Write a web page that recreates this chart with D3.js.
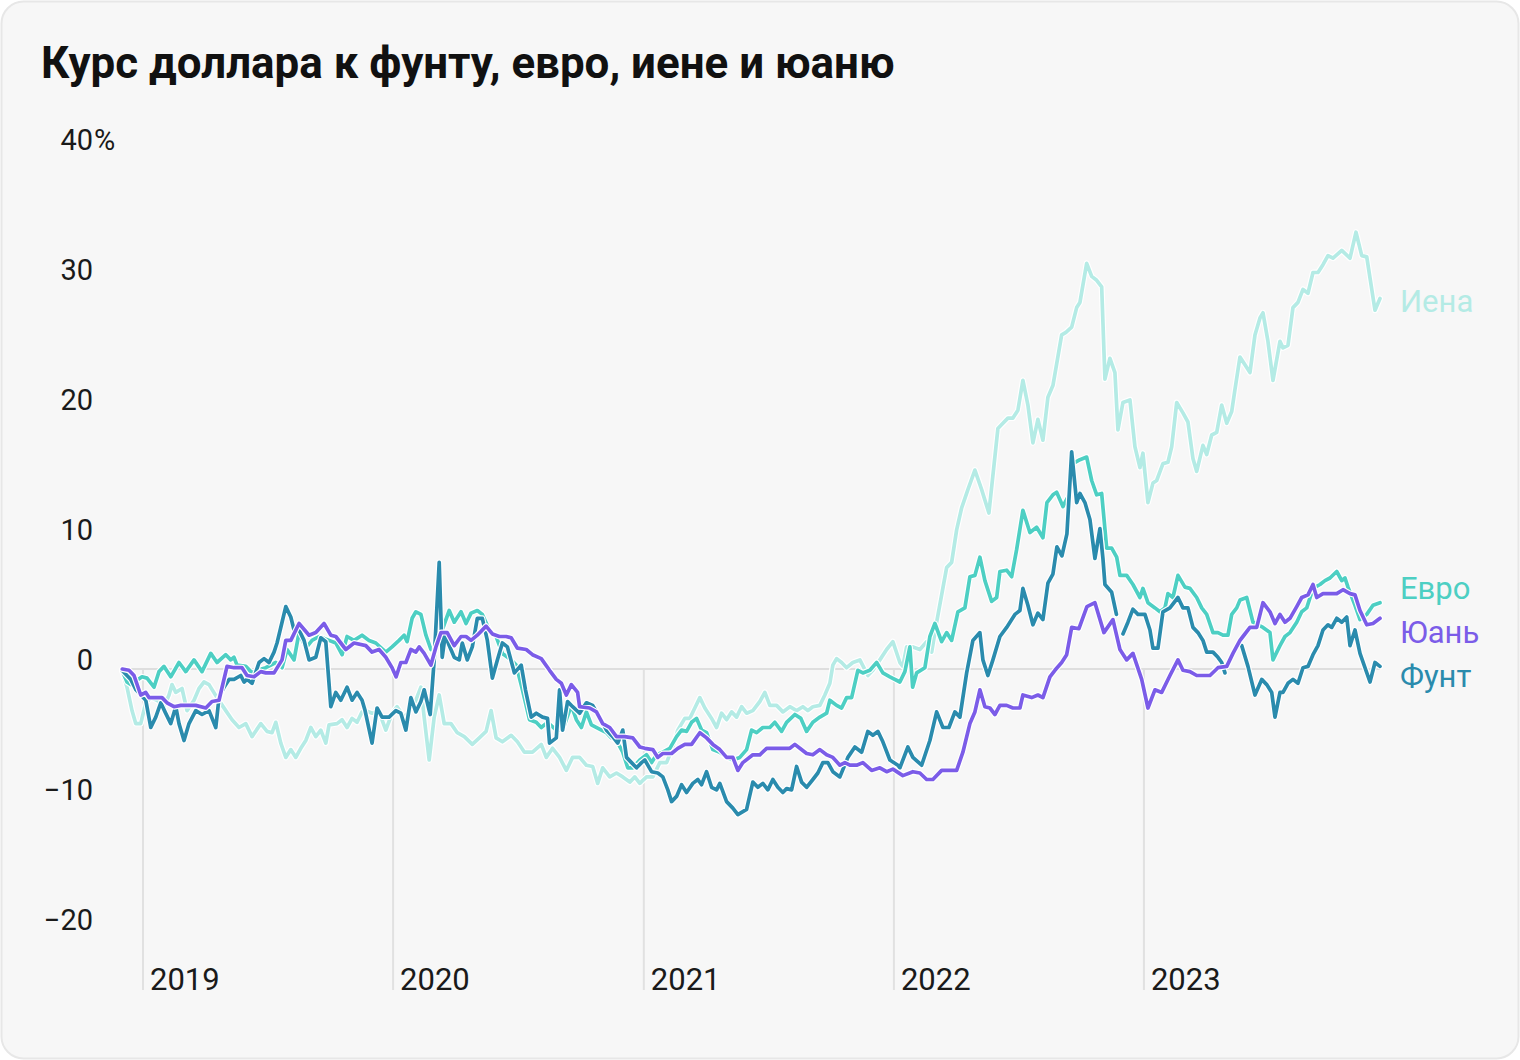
<!DOCTYPE html>
<html><head><meta charset="utf-8">
<script src="https://cdn.jsdelivr.net/npm/d3@7"></script>
<style>
html,body{margin:0;padding:0;background:#ffffff;}
svg{display:block;font-family:Roboto,"Noto Sans",sans-serif;}
</style></head><body>
<svg id="chart" width="1520" height="1060"></svg>
<script>
const titleText = "Курс доллара к фунту, евро, иене и юаню";
const yTicks = [-20, -10, 0, 10, 20, 30, 40];
const yearTicks = [2019, 2020, 2021, 2022, 2023];
const seriesNames = ["Иена", "Евро", "Фунт", "Юань"];
const seriesColors = ["#b4ebe5", "#4dcfc3", "#2a8bad", "#7b5ce8"];

// [decimal year, % change]
const yen = [[2018.916,-0.1],[2018.936,-1.4],[2018.956,-3.2],[2018.971,-4.2],[2018.991,-4.2],[2019.011,-2.6],[2019.031,-2.2],[2019.056,-2.4],[2019.084,-2.9],[2019.104,-2.0],[2019.116,-1.2],[2019.131,-1.8],[2019.156,-1.5],[2019.176,-3.2],[2019.204,-2.4],[2019.224,-1.5],[2019.244,-1.0],[2019.264,-1.2],[2019.296,-2.2],[2019.331,-3.2],[2019.356,-3.9],[2019.384,-4.5],[2019.411,-4.2],[2019.436,-5.2],[2019.471,-4.2],[2019.496,-4.8],[2019.516,-4.9],[2019.531,-4.1],[2019.551,-5.7],[2019.571,-6.8],[2019.591,-6.2],[2019.611,-6.8],[2019.631,-6.1],[2019.651,-5.5],[2019.671,-4.5],[2019.691,-5.2],[2019.711,-4.7],[2019.731,-5.7],[2019.744,-4.3],[2019.776,-4.2],[2019.796,-3.9],[2019.816,-4.5],[2019.836,-3.8],[2019.856,-4.1],[2019.876,-3.3],[2019.891,-3.2],[2019.916,-3.4],[2019.944,-3.3],[2019.971,-4.7],[2019.996,-3.4],[2020.016,-2.9],[2020.044,-3.7],[2020.064,-3.3],[2020.091,-2.4],[2020.111,-1.4],[2020.124,-3.7],[2020.144,-7.0],[2020.164,-3.7],[2020.184,-2.0],[2020.204,-4.2],[2020.231,-4.2],[2020.256,-4.9],[2020.284,-5.2],[2020.316,-5.8],[2020.344,-5.3],[2020.371,-4.8],[2020.391,-3.2],[2020.411,-5.3],[2020.436,-5.6],[2020.471,-5.1],[2020.496,-5.6],[2020.524,-6.4],[2020.556,-6.4],[2020.591,-5.8],[2020.611,-6.8],[2020.636,-6.1],[2020.664,-6.8],[2020.691,-7.8],[2020.716,-6.8],[2020.744,-6.8],[2020.771,-7.4],[2020.796,-7.5],[2020.816,-8.8],[2020.836,-7.6],[2020.864,-8.3],[2020.891,-8.0],[2020.916,-8.3],[2020.944,-8.7],[2020.964,-8.3],[2020.984,-8.8],[2021.011,-8.3],[2021.036,-8.3],[2021.064,-7.2],[2021.091,-7.2],[2021.116,-6.0],[2021.136,-4.7],[2021.164,-3.8],[2021.184,-3.8],[2021.204,-3.0],[2021.224,-2.2],[2021.244,-3.0],[2021.271,-3.8],[2021.291,-4.5],[2021.311,-3.4],[2021.331,-3.9],[2021.351,-3.3],[2021.371,-3.7],[2021.391,-2.9],[2021.411,-3.4],[2021.436,-3.2],[2021.464,-2.5],[2021.484,-1.8],[2021.504,-2.8],[2021.531,-2.8],[2021.556,-3.3],[2021.584,-2.9],[2021.611,-3.2],[2021.636,-2.9],[2021.656,-3.2],[2021.676,-2.9],[2021.704,-2.8],[2021.724,-2.0],[2021.744,-1.1],[2021.756,0.3],[2021.771,0.8],[2021.791,0.5],[2021.811,0.1],[2021.836,0.5],[2021.864,0.7],[2021.896,-0.5],[2021.916,-0.1],[2021.944,0.7],[2021.971,1.5],[2021.996,2.1],[2022.024,0.5],[2022.036,0.2],[2022.051,1.7],[2022.076,1.7],[2022.104,1.5],[2022.131,2.1],[2022.151,1.3],[2022.171,3.6],[2022.191,5.7],[2022.211,7.8],[2022.231,8.2],[2022.251,10.7],[2022.271,12.4],[2022.296,13.8],[2022.324,15.3],[2022.351,13.8],[2022.380,12.0],[2022.416,18.5],[2022.436,18.9],[2022.456,19.3],[2022.476,19.3],[2022.496,19.9],[2022.516,22.2],[2022.536,20.3],[2022.556,17.4],[2022.576,19.2],[2022.596,17.6],[2022.616,20.9],[2022.636,21.8],[2022.671,25.7],[2022.688,25.9],[2022.711,26.3],[2022.731,27.8],[2022.744,28.2],[2022.771,31.2],[2022.791,30.2],[2022.811,29.9],[2022.831,29.4],[2022.844,22.3],[2022.864,23.9],[2022.884,22.8],[2022.896,18.4],[2022.916,20.5],[2022.944,20.7],[2022.964,17.1],[2022.984,15.5],[2022.996,16.6],[2023.016,12.8],[2023.036,14.3],[2023.051,14.5],[2023.076,15.8],[2023.096,15.9],[2023.111,17.1],[2023.131,20.5],[2023.156,19.7],[2023.176,19.0],[2023.196,16.2],[2023.211,15.2],[2023.236,17.2],[2023.251,16.5],[2023.271,18.0],[2023.291,18.2],[2023.311,20.3],[2023.331,18.9],[2023.351,19.8],[2023.364,21.5],[2023.384,24.0],[2023.424,22.8],[2023.444,25.7],[2023.464,27.0],[2023.476,27.4],[2023.496,25.2],[2023.516,22.2],[2023.544,25.2],[2023.556,24.7],[2023.576,24.9],[2023.596,27.8],[2023.616,28.2],[2023.636,29.2],[2023.656,28.9],[2023.676,30.5],[2023.696,30.5],[2023.716,31.1],[2023.736,31.8],[2023.756,31.6],[2023.791,32.2],[2023.824,31.6],[2023.848,33.6],[2023.871,31.8],[2023.891,31.7],[2023.924,27.6],[2023.944,28.5]];

const euro = [[2018.916,-0.1],[2018.936,-1.0],[2018.951,-1.2],[2018.996,-0.6],[2019.016,-0.7],[2019.044,-1.4],[2019.064,-0.2],[2019.084,0.2],[2019.111,-0.6],[2019.144,0.5],[2019.171,-0.2],[2019.204,0.7],[2019.236,-0.2],[2019.271,1.2],[2019.296,0.5],[2019.331,1.1],[2019.351,0.7],[2019.364,0.9],[2019.376,0.3],[2019.411,0.2],[2019.436,-0.3],[2019.456,-0.1],[2019.491,0.1],[2019.531,0.5],[2019.556,0.1],[2019.576,1.5],[2019.604,0.7],[2019.624,2.8],[2019.651,1.6],[2019.676,2.2],[2019.704,2.5],[2019.744,2.2],[2019.771,2.0],[2019.796,1.1],[2019.816,2.5],[2019.844,2.2],[2019.876,2.6],[2019.904,2.2],[2019.931,2.0],[2019.971,1.3],[2019.996,1.7],[2020.024,2.2],[2020.044,2.6],[2020.056,2.1],[2020.076,3.9],[2020.091,4.4],[2020.111,4.2],[2020.131,2.6],[2020.151,1.5],[2020.171,1.8],[2020.196,3.0],[2020.224,4.5],[2020.244,3.6],[2020.271,4.4],[2020.291,3.5],[2020.311,4.3],[2020.336,4.5],[2020.356,4.2],[2020.384,3.0],[2020.411,2.5],[2020.436,1.2],[2020.471,0.7],[2020.491,0.3],[2020.516,-1.6],[2020.544,-3.9],[2020.571,-4.1],[2020.591,-4.5],[2020.616,-4.1],[2020.651,-4.7],[2020.676,-4.7],[2020.711,-2.8],[2020.731,-3.9],[2020.751,-4.5],[2020.771,-3.3],[2020.791,-4.3],[2020.831,-4.7],[2020.851,-4.9],[2020.871,-5.3],[2020.891,-5.5],[2020.916,-6.4],[2020.936,-7.6],[2020.956,-7.6],[2020.984,-7.0],[2021.011,-6.6],[2021.031,-7.2],[2021.051,-6.6],[2021.076,-6.4],[2021.104,-6.1],[2021.131,-5.2],[2021.151,-4.7],[2021.171,-4.8],[2021.191,-4.1],[2021.211,-3.8],[2021.231,-4.7],[2021.251,-4.9],[2021.276,-6.2],[2021.304,-6.4],[2021.331,-6.8],[2021.356,-7.0],[2021.384,-6.8],[2021.411,-6.2],[2021.431,-4.7],[2021.451,-4.9],[2021.476,-4.5],[2021.504,-4.5],[2021.524,-4.1],[2021.551,-4.8],[2021.571,-4.1],[2021.604,-3.5],[2021.628,-3.8],[2021.651,-4.8],[2021.676,-4.1],[2021.704,-3.7],[2021.731,-3.4],[2021.744,-2.4],[2021.771,-2.8],[2021.791,-3.0],[2021.811,-2.2],[2021.831,-2.2],[2021.856,-0.1],[2021.876,-0.3],[2021.904,-0.1],[2021.931,0.5],[2021.956,-0.3],[2021.984,-0.6],[2022.024,-1.0],[2022.044,-0.2],[2022.064,1.7],[2022.075,-1.4],[2022.091,-0.3],[2022.124,0.1],[2022.144,2.5],[2022.164,3.5],[2022.191,2.1],[2022.211,2.8],[2022.231,2.2],[2022.256,4.4],[2022.284,4.7],[2022.304,7.1],[2022.324,7.2],[2022.344,8.6],[2022.364,6.8],[2022.391,5.2],[2022.411,5.5],[2022.424,7.5],[2022.451,7.6],[2022.471,7.1],[2022.491,9.2],[2022.516,12.2],[2022.544,10.5],[2022.571,10.9],[2022.596,10.1],[2022.612,12.8],[2022.636,13.4],[2022.651,13.6],[2022.676,12.5],[2022.704,13.5],[2022.716,15.8],[2022.744,16.1],[2022.771,16.3],[2022.791,14.5],[2022.811,13.4],[2022.831,13.5],[2022.851,9.3],[2022.871,9.3],[2022.891,8.6],[2022.904,7.2],[2022.931,7.2],[2022.956,6.5],[2022.984,5.5],[2022.996,6.2],[2023.016,5.1],[2023.044,4.7],[2023.064,4.4],[2023.084,4.7],[2023.096,5.8],[2023.116,5.5],[2023.136,7.2],[2023.164,6.3],[2023.184,6.2],[2023.211,5.5],[2023.231,4.7],[2023.251,4.2],[2023.276,2.8],[2023.296,2.8],[2023.316,2.6],[2023.336,2.6],[2023.351,4.2],[2023.371,4.7],[2023.384,5.3],[2023.411,5.5],[2023.436,3.6],[2023.456,3.4],[2023.476,3.2],[2023.504,2.8],[2023.516,0.7],[2023.544,1.8],[2023.564,2.5],[2023.584,2.8],[2023.611,3.6],[2023.631,4.4],[2023.651,4.7],[2023.676,6.2],[2023.704,6.5],[2023.724,6.8],[2023.744,7.0],[2023.771,7.5],[2023.791,6.8],[2023.804,7.0],[2023.816,6.3],[2023.844,4.9],[2023.864,3.8],[2023.891,4.2],[2023.916,4.9],[2023.944,5.1]];

const pound = [[2018.916,-0.1],[2018.951,-0.8],[2018.972,-1.6],[2019.011,-2.4],[2019.031,-4.5],[2019.051,-3.7],[2019.071,-2.6],[2019.088,-3.3],[2019.111,-4.2],[2019.131,-2.9],[2019.144,-4.2],[2019.164,-5.5],[2019.184,-4.2],[2019.211,-3.2],[2019.236,-3.5],[2019.264,-3.2],[2019.291,-4.5],[2019.304,-2.2],[2019.324,-1.4],[2019.344,-0.8],[2019.364,-0.8],[2019.391,-0.5],[2019.404,-1.0],[2019.416,-0.8],[2019.436,-1.1],[2019.464,0.5],[2019.484,0.8],[2019.504,0.5],[2019.524,1.3],[2019.536,2.0],[2019.556,3.6],[2019.571,4.8],[2019.591,4.0],[2019.604,3.0],[2019.624,3.0],[2019.644,2.2],[2019.664,0.7],[2019.691,0.9],[2019.711,2.4],[2019.731,2.1],[2019.751,-2.9],[2019.771,-1.8],[2019.791,-2.4],[2019.816,-1.4],[2019.836,-2.4],[2019.856,-1.8],[2019.876,-2.4],[2019.888,-3.2],[2019.916,-5.7],[2019.936,-3.0],[2019.956,-3.7],[2019.984,-3.7],[2020.011,-3.2],[2020.031,-3.4],[2020.051,-4.7],[2020.071,-2.2],[2020.091,-3.3],[2020.111,-2.5],[2020.124,-1.6],[2020.148,-3.5],[2020.164,0.7],[2020.184,8.2],[2020.196,0.9],[2020.208,2.6],[2020.224,1.8],[2020.244,0.9],[2020.264,0.7],[2020.276,2.0],[2020.296,0.7],[2020.316,1.7],[2020.336,3.9],[2020.356,3.9],[2020.376,2.2],[2020.396,-0.7],[2020.416,0.7],[2020.436,2.0],[2020.456,1.7],[2020.484,-0.3],[2020.511,0.3],[2020.528,-1.6],[2020.551,-3.7],[2020.571,-3.4],[2020.596,-3.7],[2020.616,-3.8],[2020.624,-5.7],[2020.651,-5.3],[2020.664,-1.6],[2020.676,-4.7],[2020.696,-2.5],[2020.716,-2.9],[2020.744,-3.4],[2020.771,-2.6],[2020.796,-2.8],[2020.824,-3.7],[2020.851,-4.7],[2020.876,-5.2],[2020.896,-5.7],[2020.916,-4.7],[2020.931,-6.8],[2020.951,-7.2],[2020.971,-7.6],[2020.991,-7.2],[2021.004,-7.0],[2021.031,-7.9],[2021.056,-8.0],[2021.076,-8.3],[2021.096,-9.3],[2021.111,-10.2],[2021.131,-9.8],[2021.151,-8.9],[2021.171,-9.5],[2021.196,-8.8],[2021.216,-8.5],[2021.231,-8.9],[2021.251,-7.9],[2021.271,-9.1],[2021.291,-9.3],[2021.304,-8.8],[2021.331,-10.2],[2021.356,-10.7],[2021.376,-11.2],[2021.411,-10.8],[2021.436,-8.7],[2021.456,-9.1],[2021.476,-8.8],[2021.496,-9.3],[2021.516,-8.5],[2021.536,-9.1],[2021.556,-9.5],[2021.571,-9.2],[2021.591,-9.3],[2021.611,-7.5],[2021.631,-8.7],[2021.651,-9.1],[2021.676,-8.5],[2021.696,-8.0],[2021.716,-7.2],[2021.736,-7.2],[2021.756,-7.9],[2021.784,-8.3],[2021.816,-6.8],[2021.844,-6.0],[2021.871,-6.4],[2021.896,-4.8],[2021.916,-5.1],[2021.936,-4.8],[2021.956,-5.6],[2021.984,-7.0],[2022.016,-7.4],[2022.024,-7.6],[2022.056,-6.0],[2022.076,-6.8],[2022.111,-7.4],[2022.144,-5.5],[2022.171,-3.3],[2022.196,-4.5],[2022.220,-4.5],[2022.244,-3.3],[2022.264,-3.7],[2022.291,-0.3],[2022.316,2.2],[2022.344,2.8],[2022.356,0.7],[2022.376,-0.5],[2022.396,0.7],[2022.424,2.5],[2022.451,3.2],[2022.484,4.2],[2022.504,4.5],[2022.516,6.2],[2022.536,4.9],[2022.556,3.4],[2022.576,4.3],[2022.596,3.8],[2022.616,6.6],[2022.636,7.3],[2022.652,9.4],[2022.672,8.7],[2022.692,10.4],[2022.711,16.7],[2022.731,12.8],[2022.744,13.5],[2022.764,12.8],[2022.784,11.5],[2022.804,8.5],[2022.824,10.8],[2022.836,8.5],[2022.844,6.5],[2022.871,5.9],[2022.890,4.2],[2022.900,null],[2022.916,2.7],[2022.936,3.6],[2022.956,4.6],[2022.976,4.2],[2023.004,4.2],[2023.024,3.0],[2023.036,1.6],[2023.056,1.6],[2023.076,4.4],[2023.104,4.7],[2023.136,5.5],[2023.156,4.7],[2023.176,4.7],[2023.196,3.2],[2023.216,2.8],[2023.236,2.2],[2023.251,1.3],[2023.276,1.3],[2023.296,0.9],[2023.311,0.5],[2023.324,-0.3],[2023.360,null],[2023.391,1.8],[2023.416,0.2],[2023.444,-2.0],[2023.471,-0.8],[2023.491,-1.2],[2023.511,-1.8],[2023.524,-3.7],[2023.544,-1.8],[2023.556,-1.8],[2023.576,-1.1],[2023.596,-0.8],[2023.616,-1.1],[2023.636,0.1],[2023.656,0.2],[2023.676,1.1],[2023.696,1.8],[2023.716,3.0],[2023.736,3.4],[2023.751,3.2],[2023.771,3.9],[2023.791,3.6],[2023.811,4.0],[2023.824,1.8],[2023.844,3.0],[2023.864,1.2],[2023.904,-1.0],[2023.924,0.5],[2023.944,0.2]];

const yuan = [[2018.917,0.0],[2018.944,-0.1],[2018.964,-0.5],[2018.991,-2.0],[2019.011,-1.8],[2019.024,-2.2],[2019.076,-2.2],[2019.096,-2.6],[2019.124,-2.9],[2019.151,-2.8],[2019.211,-2.8],[2019.251,-3.0],[2019.276,-2.5],[2019.304,-2.4],[2019.336,0.2],[2019.364,0.1],[2019.396,0.1],[2019.416,-0.5],[2019.444,-0.6],[2019.471,-0.2],[2019.491,-0.3],[2019.524,-0.3],[2019.556,0.7],[2019.571,2.2],[2019.591,2.2],[2019.624,3.5],[2019.664,2.6],[2019.691,2.8],[2019.724,3.5],[2019.751,2.6],[2019.771,2.5],[2019.811,1.5],[2019.844,2.0],[2019.891,1.8],[2019.916,1.3],[2019.944,1.5],[2019.971,0.9],[2019.996,0.1],[2020.012,-0.6],[2020.031,0.5],[2020.051,0.5],[2020.071,1.5],[2020.091,1.3],[2020.104,1.7],[2020.124,1.2],[2020.151,0.3],[2020.171,1.7],[2020.191,2.8],[2020.216,2.8],[2020.244,1.8],[2020.271,2.5],[2020.291,2.5],[2020.311,2.2],[2020.336,2.6],[2020.371,3.3],[2020.396,2.7],[2020.424,2.5],[2020.451,2.5],[2020.471,2.4],[2020.496,1.6],[2020.531,1.5],[2020.556,1.1],[2020.591,0.8],[2020.624,-0.1],[2020.651,-0.8],[2020.671,-1.1],[2020.691,-2.0],[2020.711,-1.2],[2020.736,-1.8],[2020.744,-2.9],[2020.784,-3.0],[2020.811,-3.3],[2020.836,-4.2],[2020.864,-4.5],[2020.891,-5.2],[2020.924,-5.2],[2020.956,-5.3],[2020.984,-6.0],[2021.004,-6.1],[2021.036,-6.2],[2021.056,-6.8],[2021.076,-6.5],[2021.111,-6.5],[2021.136,-6.1],[2021.164,-5.8],[2021.191,-5.8],[2021.224,-4.9],[2021.251,-5.3],[2021.276,-5.8],[2021.304,-6.2],[2021.331,-6.8],[2021.356,-6.8],[2021.376,-7.8],[2021.396,-7.2],[2021.436,-6.6],[2021.464,-6.6],[2021.491,-6.1],[2021.544,-6.1],[2021.584,-6.1],[2021.604,-5.8],[2021.624,-6.1],[2021.651,-6.5],[2021.676,-6.6],[2021.704,-6.2],[2021.731,-6.6],[2021.756,-6.8],[2021.784,-7.4],[2021.804,-7.2],[2021.824,-7.4],[2021.851,-7.4],[2021.876,-7.2],[2021.911,-7.8],[2021.944,-7.6],[2021.971,-7.9],[2021.996,-7.7],[2022.036,-8.2],[2022.076,-7.9],[2022.104,-8.0],[2022.131,-8.5],[2022.156,-8.5],[2022.191,-7.8],[2022.251,-7.8],[2022.276,-6.4],[2022.304,-4.2],[2022.324,-3.3],[2022.344,-1.6],[2022.364,-2.9],[2022.384,-3.0],[2022.404,-3.5],[2022.424,-2.8],[2022.451,-2.8],[2022.476,-3.0],[2022.504,-3.0],[2022.516,-2.0],[2022.551,-2.2],[2022.576,-2.0],[2022.596,-2.2],[2022.624,-0.6],[2022.644,-0.1],[2022.671,0.5],[2022.691,1.1],[2022.711,3.2],[2022.740,3.1],[2022.772,4.8],[2022.804,5.1],[2022.840,2.8],[2022.876,3.8],[2022.904,1.5],[2022.931,0.7],[2022.956,1.2],[2022.991,-0.8],[2023.016,-3.0],[2023.044,-1.6],[2023.071,-1.8],[2023.104,-0.5],[2023.136,0.7],[2023.156,-0.1],[2023.184,-0.2],[2023.211,-0.5],[2023.264,-0.5],[2023.296,0.1],[2023.331,0.2],[2023.356,1.2],[2023.384,2.2],[2023.396,2.5],[2023.424,3.2],[2023.451,3.2],[2023.476,5.1],[2023.504,4.4],[2023.524,3.5],[2023.544,4.2],[2023.564,3.6],[2023.584,3.9],[2023.611,4.8],[2023.631,5.5],[2023.656,5.7],[2023.676,6.5],[2023.691,5.5],[2023.716,5.8],[2023.744,5.8],[2023.771,5.8],[2023.796,6.1],[2023.824,5.8],[2023.844,5.7],[2023.864,4.5],[2023.891,3.4],[2023.916,3.5],[2023.944,3.9]];

const seriesData = [yen, euro, pound, yuan];

// decimal year -> Date
function toDate(t) {
  const yr = Math.floor(t);
  const a = Date.UTC(yr, 0, 1), b = Date.UTC(yr + 1, 0, 1);
  return new Date(a + (t - yr) * (b - a));
}

const W = 1520, H = 1060;
const plotLeft = 122, plotRight = 1380, plotBottom = 990;

const svg = d3.select("#chart");

// card
svg.append("rect")
  .attr("x", 1.5).attr("y", 1.5).attr("width", W - 3).attr("height", H - 3)
  .attr("rx", 22).attr("ry", 22)
  .attr("fill", "#f7f7f7").attr("stroke", "#e7e7e7").attr("stroke-width", 2);

const allT = seriesData.flat().map(d => d[0]);
const x = d3.scaleUtc()
  .domain([toDate(d3.min(allT)), toDate(d3.max(allT))])
  .range([plotLeft, plotRight]);
const y = d3.scaleLinear().domain([-20, 40]).range([929, 149]);

// title
const title = svg.append("text")
  .attr("x", 41).attr("y", 78)
  .attr("font-size", 40).attr("font-weight", 700)
  .attr("fill", "#111")
  .text(titleText);
const tl = title.node().getComputedTextLength();
title.attr("font-size", 40 * 854 / tl);

// year gridlines
const gx = svg.append("g");
yearTicks.forEach(yr => {
  const px = x(new Date(Date.UTC(yr, 0, 1)));
  gx.append("line")
    .attr("x1", px).attr("x2", px)
    .attr("y1", y(0)).attr("y2", plotBottom)
    .attr("stroke", "#e1e1e1").attr("stroke-width", 2);
  gx.append("text")
    .attr("x", px + 7).attr("y", plotBottom)
    .attr("font-size", 31).attr("fill", "#1a1a1a")
    .text(yr);
});

// zero line
svg.append("line")
  .attr("x1", plotLeft).attr("x2", plotRight)
  .attr("y1", y(0)).attr("y2", y(0))
  .attr("stroke", "#dedede").attr("stroke-width", 2);

// y labels
const gy = svg.append("g");
yTicks.forEach(v => {
  gy.append("text")
    .attr("x", 93).attr("y", y(v) + 1)
    .attr("text-anchor", "end")
    .attr("font-size", 29).attr("fill", "#1a1a1a")
    .text(v < 0 ? "\u2212" + Math.abs(v) : String(v));
  if (v === d3.max(yTicks)) {
    gy.append("text")
      .attr("x", 94).attr("y", y(v) + 1)
      .attr("font-size", 29).attr("fill", "#1a1a1a")
      .text("%");
  }
});

// lines
const line = d3.line()
  .defined(d => d[1] != null)
  .x(d => x(toDate(d[0])))
  .y(d => y(d[1]))
  .curve(d3.curveLinear);

const gl = svg.append("g");
seriesData.forEach((data, i) => {
  gl.append("path").datum(data)
    .attr("d", line)
    .attr("fill", "none")
    .attr("stroke", "#ffffff")
    .attr("stroke-width", 6)
    .attr("stroke-linejoin", "round")
    .attr("stroke-linecap", "round");
  gl.append("path").datum(data)
    .attr("d", line)
    .attr("fill", "none")
    .attr("stroke", seriesColors[i])
    .attr("stroke-width", 3.7)
    .attr("stroke-linejoin", "round")
    .attr("stroke-linecap", "round");
});

// end labels with collision relaxation
const labels = seriesData.map((data, i) => {
  const last = data.filter(d => d[1] != null).slice(-1)[0];
  return { name: seriesNames[i], color: seriesColors[i], y: y(last[1]) };
}).sort((a, b) => a.y - b.y);
const gap = 44;
for (let it = 0; it < 300; it++) {
  let moved = false;
  for (let i = 1; i < labels.length; i++) {
    const d = labels[i].y - labels[i - 1].y;
    if (d < gap - 0.01) {
      const m = (gap - d) / 2;
      labels[i - 1].y -= m; labels[i].y += m; moved = true;
    }
  }
  if (!moved) break;
}
svg.append("g").selectAll("text").data(labels).join("text")
  .attr("x", 1400).attr("y", d => d.y)
  .attr("dy", "0.45em")
  .attr("font-size", 31)
  .attr("fill", d => d.color)
  .text(d => d.name);
</script>
</body></html>
